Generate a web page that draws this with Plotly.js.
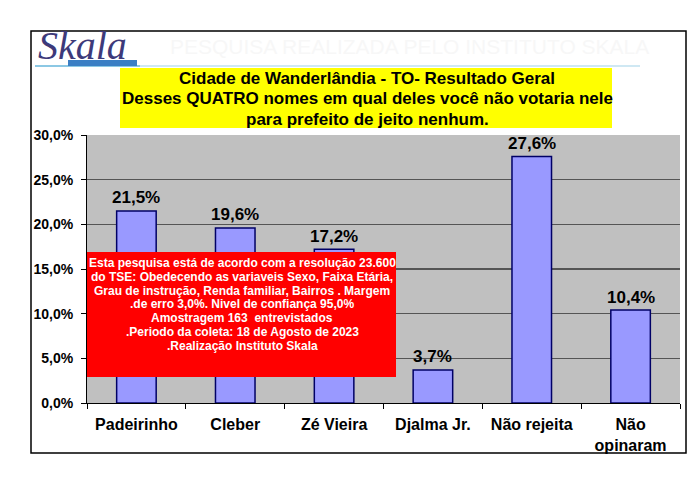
<!DOCTYPE html>
<html><head><meta charset="utf-8">
<script src="https://cdn.plot.ly/plotly-3.0.1.min.js"></script>
<style>html,body{margin:0;padding:0;background:#fff;}#chart{width:700px;height:495px;}</style>
</head><body><div id="chart"></div>
<script>
const categories = ["Padeirinho", "Cleber", "Zé Vieira", "Djalma Jr.", "Não rejeita", "Não<br>opinaram"];
const values = [21.5, 19.6, 17.2, 3.7, 27.6, 10.4];
const yTicks = [0, 5, 10, 15, 20, 25, 30];
const titleLines = ["Cidade de Wanderlândia - TO- Resultado Geral", "Desses QUATRO nomes em qual deles você não votaria nele", "para prefeito de jeito nenhum."];
const noteLines = ["Esta pesquisa está de acordo com a resolução 23.600", "do TSE: Obedecendo as variaveis Sexo, Faixa Etária,", "Grau de instrução, Renda familiar, Bairros . Margem", ".de erro 3,0%. Nivel de confiança 95,0%", "Amostragem 163  entrevistados", ".Periodo da coleta: 18 de Agosto de 2023", ".Realização Instituto Skala"];

const L = 87, R = 680, T = 135, B = 403;
const W = R - L, H = B - T;
const px = x => (x - L) / W;
const py = y => (B - y) / H;

const font = "Liberation Sans, Arial, sans-serif";

const annotations = values.map((v, i) => ({
  x: categories[i], y: v, xref: "x", yref: "y",
  text: v.toFixed(1).replace(".", ",") + "%",
  showarrow: false, yanchor: "middle", yshift: 13,
  font: {family: font, size: 17, color: "#000", weight: "bold"}
}));

titleLines.forEach((t, i) => annotations.push({
  xref: "paper", yref: "paper", x: px(367), y: py(78 + i * 20.5), xanchor: "center", yanchor: "middle",
  text: "<b>" + t + "</b>", showarrow: false,
  font: {family: font, size: 17, color: "#000"}
}));
noteLines.forEach((t, i) => annotations.push({
  xref: "paper", yref: "paper", x: px(242), y: py(263 + i * 13.8), xanchor: "center", yanchor: "middle",
  text: "<b>" + t + "</b>", showarrow: false,
  font: {family: font, size: 12, color: "#fff"}
}));
annotations.push({
  xref: "paper", yref: "paper", x: px(168), y: py(47), xanchor: "left", yanchor: "middle",
  text: "PESQUISA REALIZADA PELO INSTITUTO SKALA", showarrow: false,
  font: {family: font, size: 21, color: "#f7f7f7"}
});
annotations.push({
  xref: "paper", yref: "paper", x: px(36), y: py(70), xanchor: "left", yanchor: "bottom",
  text: "<i>Skala</i>", showarrow: false,
  font: {family: "Liberation Serif, DejaVu Serif, serif", size: 40, color: "#3d3a7a"}
});

const shapes = [
  {type: "rect", xref: "paper", yref: "paper", x0: px(31), x1: px(686), y0: py(453), y1: py(31),
   line: {color: "#000", width: 1.5}, fillcolor: "rgba(0,0,0,0)", layer: "below"},
  {type: "rect", xref: "paper", yref: "paper", x0: px(120), x1: px(612), y0: py(128), y1: py(68),
   line: {width: 0}, fillcolor: "#ffff00", layer: "below"},
  {type: "rect", xref: "paper", yref: "paper", x0: px(87), x1: px(396), y0: py(377), y1: py(252),
   line: {width: 0}, fillcolor: "#ff0000", layer: "above"},
  {type: "line", xref: "paper", yref: "paper", x0: px(35), x1: px(640), y0: py(66), y1: py(66),
   line: {color: "#cfe8f3", width: 2}},
  {type: "line", xref: "paper", yref: "paper", x0: px(35), x1: px(140), y0: py(66), y1: py(66),
   line: {color: "#8cc8e4", width: 2}},
  {type: "rect", xref: "paper", yref: "paper", x0: px(68), x1: px(137), y0: py(66), y1: py(60),
   line: {width: 0}, fillcolor: "#3b7fc4"}
];

Plotly.newPlot("chart", [{
  type: "bar", x: categories, y: values,
  marker: {color: "#9999ff", line: {color: "#000066", width: 1.5}},
  hoverinfo: "none"
}], {
  width: 700, height: 495,
  margin: {l: L, r: 700 - R, t: T, b: 495 - B, pad: 0},
  paper_bgcolor: "#ffffff", plot_bgcolor: "#c0c0c0",
  separators: ",.",
  bargap: 0.6,
  showlegend: false,
  xaxis: {
    type: "category", tickson: "boundaries", ticks: "outside", ticklen: 5, tickcolor: "#000",
    showline: true, linecolor: "#000", linewidth: 1, mirror: false, showgrid: false,
    ticklabelstandoff: 7,
    tickfont: {family: font, size: 16, color: "#000", weight: "bold"}
  },
  yaxis: {
    range: [0, 30], tickvals: yTicks, ticktext: yTicks.map(t => t.toFixed(1).replace(".", ",") + "%"),
    ticks: "outside", ticklen: 5, tickcolor: "#000",
    showline: true, linecolor: "#000", linewidth: 1,
    showgrid: true, gridcolor: "#555", gridwidth: 1.2, zeroline: false,
    ticklabelstandoff: 5,
    tickfont: {family: font, size: 14, color: "#000", weight: "bold"}
  },
  annotations: annotations,
  shapes: shapes
}, {displayModeBar: false, staticPlot: true});
</script></body></html>
